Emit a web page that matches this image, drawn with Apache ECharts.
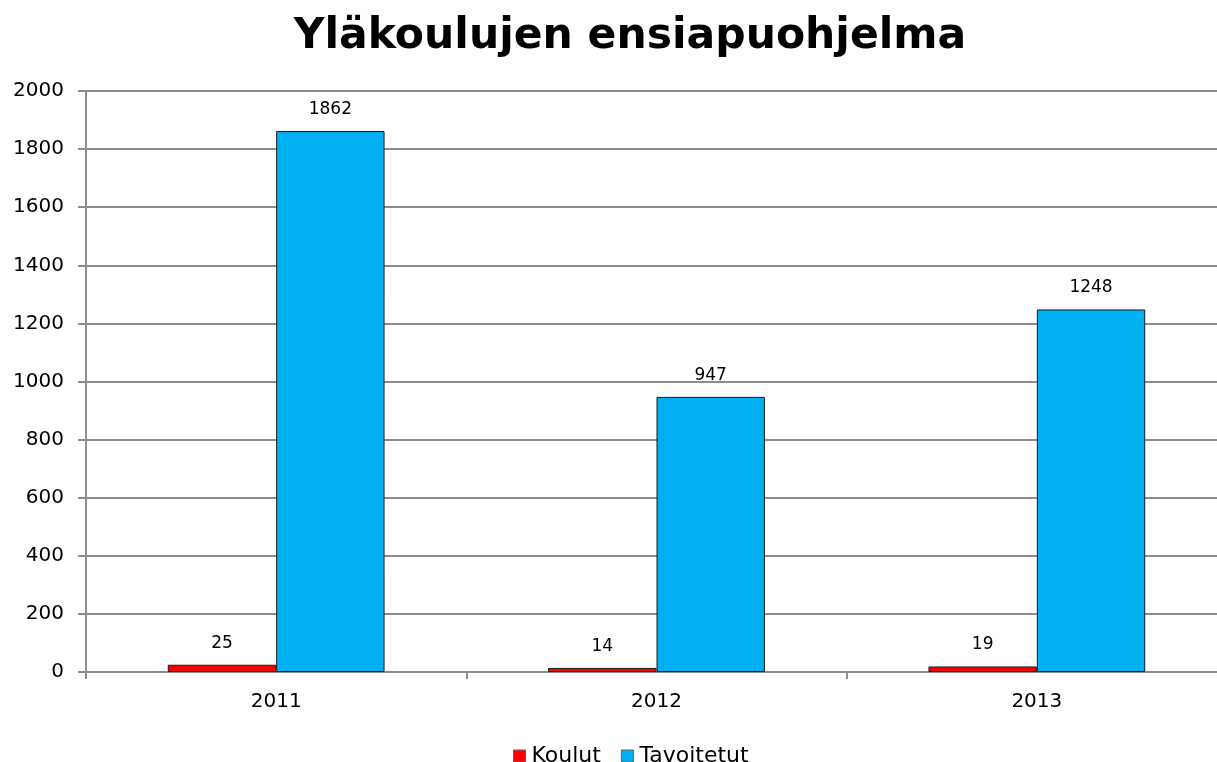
<!DOCTYPE html>
<html>
<head>
<meta charset="utf-8">
<script src="https://cdn.jsdelivr.net/npm/echarts@6/dist/echarts.min.js"></script>
<style>
  html, body { margin: 0; padding: 0; background: #ffffff; }
  #chart { width: 1217px; height: 762px; }
</style>
</head>
<body>
<div id="chart"></div>
<script>
// Yläkoulujen ensiapuohjelma – koulut ja tavoitetut oppilaat vuosittain
const years = ['2011', '2012', '2013'];
const koulut = [25, 14, 19];
const tavoitetut = [1862, 947, 1248];
const yTicks = { min: 0, max: 2000, interval: 200 };

const font = 'DejaVu Sans, Verdana, sans-serif';
const axisGrey = '#8c8c8c';

const chart = echarts.init(document.getElementById('chart'), null, { renderer: 'canvas' });
chart.setOption({
  animation: false,
  backgroundColor: '#ffffff',
  title: {
    text: 'Yläkoulujen ensiapuohjelma',
    left: 625,
    top: 10,
    textAlign: 'center',
    textStyle: { fontFamily: font, fontSize: 42.5, fontWeight: 'bold', color: '#000000' }
  },
  legend: {
    data: ['Koulut', 'Tavoitetut'],
    left: 508,
    top: 740,
    itemWidth: 12,
    itemHeight: 12,
    itemGap: 20,
    icon: 'rect',
    itemStyle: { borderColor: '#666666', borderWidth: 1 },
    textStyle: { fontFamily: font, fontSize: 22, color: '#000000', padding: [0, 0, 0, 1] }
  },
  grid: {
    left: 86, top: 91, width: 1141, height: 581,
    containLabel: false,
    outerBoundsMode: 'none'
  },
  xAxis: {
    type: 'category',
    data: years,
    axisLine: { show: true, lineStyle: { color: axisGrey, width: 2 } },
    axisTick: { show: true, length: 7, alignWithLabel: false, lineStyle: { color: axisGrey, width: 2 } },
    axisLabel: { fontFamily: font, fontSize: 20, color: '#000000', margin: 20 },
    splitLine: { show: false }
  },
  yAxis: {
    type: 'value',
    min: yTicks.min,
    max: yTicks.max,
    interval: yTicks.interval,
    axisLine: { show: true, lineStyle: { color: axisGrey, width: 2 } },
    axisTick: { show: true, length: 8, lineStyle: { color: axisGrey, width: 2 } },
    axisLabel: { fontFamily: font, fontSize: 20, color: '#000000', margin: 22, formatter: v => String(v) },
    splitLine: { show: true, lineStyle: { color: axisGrey, width: 2 } }
  },
  series: [
    {
      name: 'Koulut',
      type: 'bar',
      data: koulut,
      barGap: '0%',
      barCategoryGap: '43%',
      itemStyle: { color: '#ff0000', borderColor: '#1a1a1a', borderWidth: 1 },
      label: { show: true, position: 'top', distance: 13, fontFamily: font, fontSize: 17, color: '#000000' }
    },
    {
      name: 'Tavoitetut',
      type: 'bar',
      data: tavoitetut,
      barGap: '0%',
      barCategoryGap: '43%',
      itemStyle: { color: '#00b0f0', borderColor: '#1a1a1a', borderWidth: 1 },
      label: { show: true, position: 'top', distance: 13, fontFamily: font, fontSize: 17, color: '#000000' }
    }
  ]
});
</script>
</body>
</html>
